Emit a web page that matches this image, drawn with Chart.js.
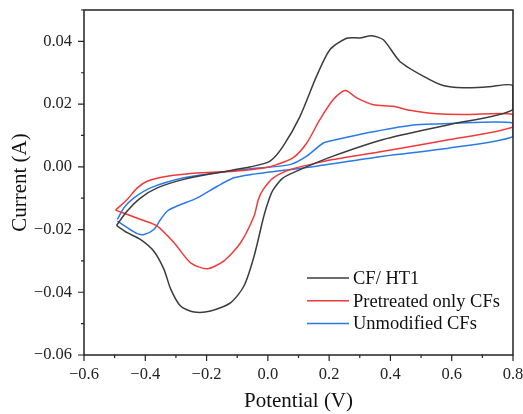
<!DOCTYPE html>
<html>
<head>
<meta charset="utf-8">
<script src="https://cdn.jsdelivr.net/npm/chart.js@4.4.1/dist/chart.umd.min.js"></script>
<style>
  html, body { margin: 0; padding: 0; background: #fff; overflow: hidden; }
  #wrap { width: 523px; height: 414px; overflow: hidden; }
</style>
</head>
<body>
<div id="wrap"><canvas id="cv" width="540" height="414"></canvas></div>
<script>
// CF/ HT1 (black), full cycle starting at -0.5 V
const htPotential = [-0.494, -0.459, -0.415, -0.361, -0.274, -0.165, -0.056, 0.007, 0.050, 0.105, 0.159, 0.203, 0.257, 0.300, 0.339, 0.377, 0.431, 0.507, 0.572, 0.638, 0.720, 0.800,
  0.800, 0.594, 0.377, 0.213, 0.105, 0.050, 0.018, 0.005, -0.013, -0.045, -0.078, -0.121, -0.187, -0.241, -0.285, -0.317, -0.339, -0.372, -0.415, -0.459, -0.494];
const htCurrent = [-0.0187, -0.0141, -0.0099, -0.0067, -0.0040, -0.0019, 0.0000, 0.0018, 0.0066, 0.0161, 0.0289, 0.0374, 0.0410, 0.0411, 0.0418, 0.0405, 0.0336, 0.0289, 0.0259, 0.0252, 0.0255, 0.0259,
  0.0182, 0.0135, 0.0087, 0.0034, -0.0009, -0.0035, -0.0072, -0.0100, -0.0157, -0.0285, -0.0380, -0.0433, -0.0460, -0.0463, -0.0444, -0.0390, -0.0327, -0.0269, -0.0232, -0.0210, -0.0187];

// Pretreated only CFs (red)
const ptPotential = [-0.497, -0.459, -0.426, -0.394, -0.328, -0.219, -0.111, -0.013, 0.029, 0.083, 0.127, 0.170, 0.213, 0.252, 0.290, 0.344, 0.409, 0.464, 0.551, 0.650, 0.800,
  0.800, 0.594, 0.377, 0.213, 0.137, 0.072, 0.018, -0.015, -0.031, -0.045, -0.089, -0.143, -0.198, -0.252, -0.306, -0.361, -0.415, -0.497];
const ptCurrent = [-0.0138, -0.0104, -0.0067, -0.0046, -0.0030, -0.0019, -0.0014, -0.0004, 0.0007, 0.0029, 0.0076, 0.0151, 0.0214, 0.0243, 0.0220, 0.0198, 0.0193, 0.0180, 0.0169, 0.0167, 0.0167,
  0.0127, 0.0087, 0.0050, 0.0023, 0.0007, -0.0009, -0.0035, -0.0072, -0.0104, -0.0157, -0.0242, -0.0300, -0.0325, -0.0306, -0.0242, -0.0189, -0.0168, -0.0138];

// Unmodified CFs (blue)
const umPotential = [-0.491, -0.470, -0.437, -0.383, -0.274, -0.165, -0.056, 0.072, 0.127, 0.181, 0.225, 0.322, 0.464, 0.594, 0.800,
  0.800, 0.594, 0.377, 0.159, -0.058, -0.111, -0.165, -0.230, -0.296, -0.328, -0.350, -0.372, -0.404, -0.426, -0.459, -0.491];
const umCurrent = [-0.0168, -0.0131, -0.0099, -0.0067, -0.0035, -0.0019, -0.0006, 0.0007, 0.0034, 0.0076, 0.0087, 0.0108, 0.0132, 0.0138, 0.0140,
  0.0096, 0.0060, 0.0034, 0.0002, -0.0025, -0.0035, -0.0062, -0.0099, -0.0125, -0.0141, -0.0168, -0.0200, -0.0216, -0.0213, -0.0194, -0.0173];

const seriesLabels = ['CF/ HT1', 'Pretreated only CFs', 'Unmodified CFs'];
const seriesColors = ['#3c3c3c', '#f03a3a', '#2a7ae6'];

const xTicks = [-0.6, -0.4, -0.2, 0.0, 0.2, 0.4, 0.6, 0.8];
const yTicks = [-0.06, -0.04, -0.02, 0.00, 0.02, 0.04];

const FONT = "'Liberation Serif', 'Times New Roman', serif";

function toPoints(xs, ys) {
  return xs.map((x, i) => ({ x: x, y: ys[i] }));
}
function fmt(v, d) {
  return v.toFixed(d).replace('-', '\u2212');
}

// box around plot + tick marks (major & minor) + legend inside plot
const framePlugin = {
  id: 'frame',
  afterDraw(chart) {
    const ctx = chart.ctx;
    const a = chart.chartArea;
    const xs = chart.scales.x, ys = chart.scales.y;
    ctx.save();
    ctx.strokeStyle = '#222';
    ctx.lineWidth = 1.5;
    ctx.strokeRect(a.left, a.top, a.right - a.left, a.bottom - a.top);

    ctx.lineWidth = 1.2;
    ctx.beginPath();
    for (let i = 0; i < xTicks.length; i++) {
      const px = xs.getPixelForValue(xTicks[i]);
      ctx.moveTo(px, a.bottom); ctx.lineTo(px, a.bottom + 6);
      if (i < xTicks.length - 1) {
        const mx = xs.getPixelForValue((xTicks[i] + xTicks[i + 1]) / 2);
        ctx.moveTo(mx, a.bottom); ctx.lineTo(mx, a.bottom + 3);
      }
    }
    for (let i = 0; i < yTicks.length; i++) {
      const py = ys.getPixelForValue(yTicks[i]);
      ctx.moveTo(a.left, py); ctx.lineTo(a.left - 6, py);
      const my = ys.getPixelForValue(yTicks[i] + 0.01);
      ctx.moveTo(a.left, my); ctx.lineTo(a.left - 3, my);
    }
    ctx.stroke();

    // legend
    ctx.font = '18.5px ' + FONT;
    ctx.textBaseline = 'middle';
    ctx.textAlign = 'left';
    const lx = a.left + 223, ly = a.top + 268;
    chart.data.datasets.forEach((ds, i) => {
      const y = ly + i * 22.8;
      ctx.strokeStyle = ds.borderColor;
      ctx.lineWidth = 1.5;
      ctx.beginPath();
      ctx.moveTo(lx, y); ctx.lineTo(lx + 42, y);
      ctx.stroke();
      ctx.fillStyle = '#111';
      ctx.fillText(ds.label, lx + 46, y + 1);
    });
    ctx.restore();
  }
};

const datasets = [
  toPoints(htPotential, htCurrent),
  toPoints(ptPotential, ptCurrent),
  toPoints(umPotential, umCurrent)
].map((pts, i) => ({
  label: seriesLabels[i],
  data: pts,
  borderColor: seriesColors[i],
  backgroundColor: seriesColors[i],
  borderWidth: 1.5,
  showLine: true,
  pointRadius: 0,
  tension: 0.25,
  fill: false
}));

new Chart(document.getElementById('cv'), {
  type: 'scatter',
  data: { datasets: datasets },
  options: {
    responsive: false,
    animation: false,
    layout: { padding: { left: 0, right: 27, top: 0, bottom: 0 } },
    plugins: {
      legend: { display: false },
      tooltip: { enabled: false }
    },
    scales: {
      x: {
        type: 'linear',
        min: -0.6, max: 0.8,
        grid: { display: false, drawTicks: false },
        border: { display: false },
        afterBuildTicks: (s) => { s.ticks = xTicks.map(v => ({ value: v })); },
        afterFit: (s) => { s.height = 59; },
        ticks: {
          padding: 10,
          color: '#222',
          font: { family: FONT, size: 16.5 },
          callback: (v) => fmt(v, 1)
        },
        title: {
          display: true, text: 'Potential (V)', color: '#111',
          font: { family: FONT, size: 21 }, padding: { top: 0, bottom: 0 }
        }
      },
      y: {
        type: 'linear',
        min: -0.06, max: 0.05,
        grid: { display: false, drawTicks: false },
        border: { display: false },
        afterBuildTicks: (s) => { s.ticks = yTicks.map(v => ({ value: v })); },
        afterFit: (s) => { s.width = 84; s.paddingTop = 10; },
        ticks: {
          padding: 12,
          color: '#222',
          font: { family: FONT, size: 16.5 },
          callback: (v) => fmt(v, 2)
        },
        title: {
          display: true, text: 'Current (A)', color: '#111',
          font: { family: FONT, size: 21 }, padding: { top: 8, bottom: 0 }
        }
      }
    }
  },
  plugins: [framePlugin]
});
</script>
</body>
</html>
